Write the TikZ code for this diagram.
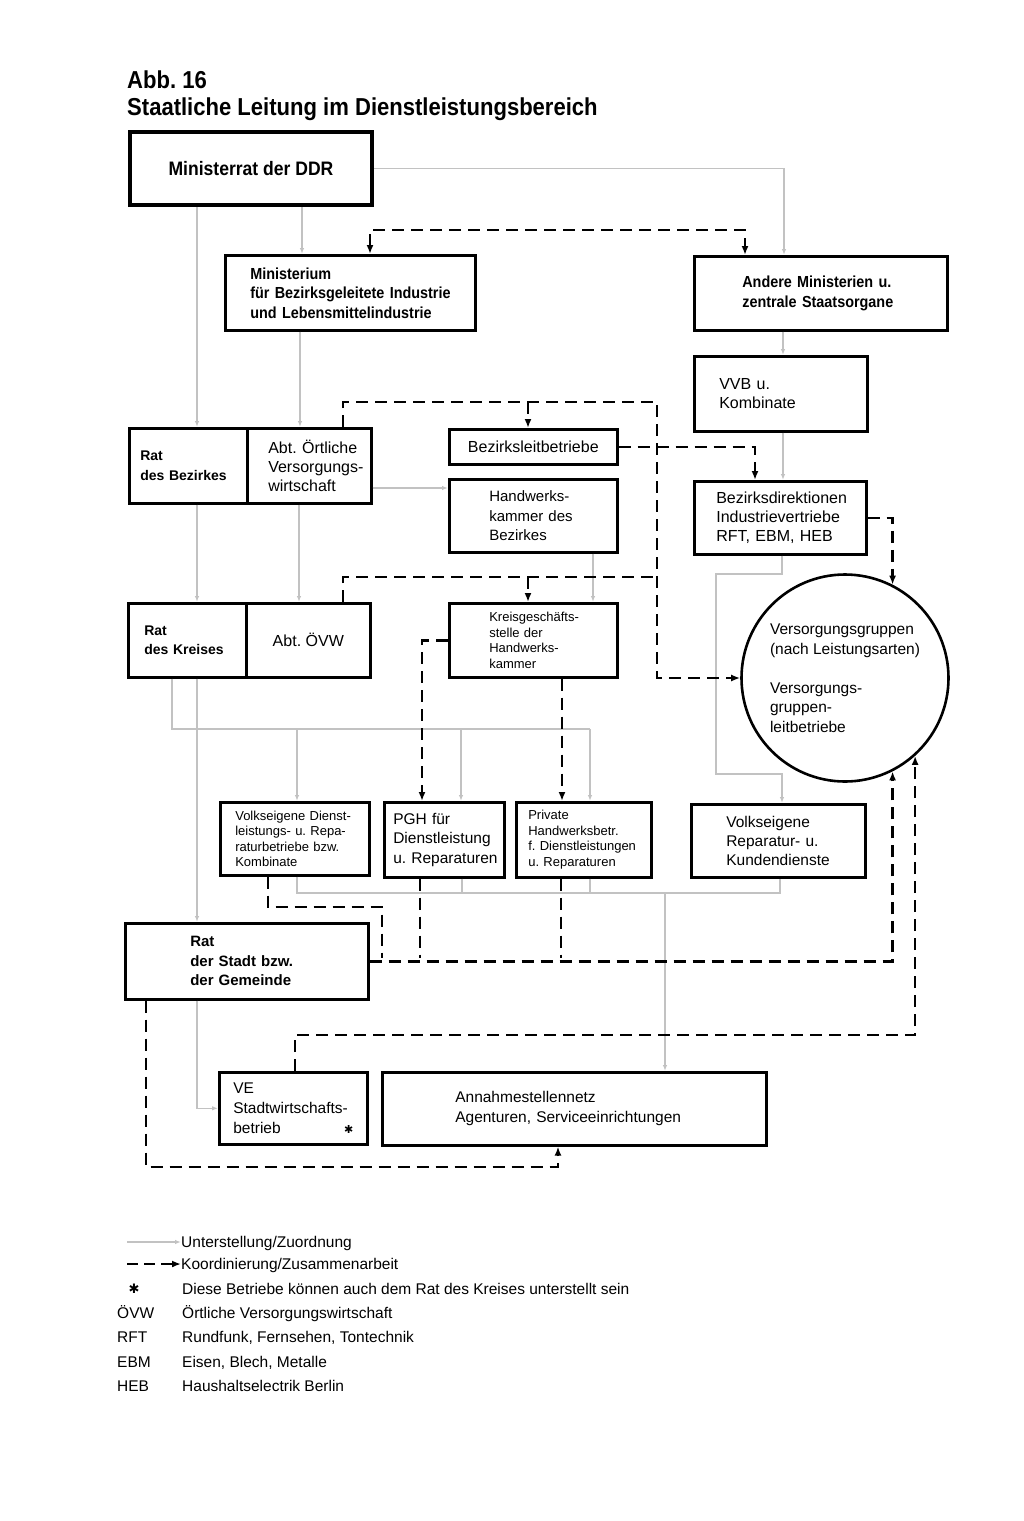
\documentclass[tikz,border=0pt]{standalone}
\usepackage{fontspec}
\setmainfont{Liberation Sans}
\newfontfamily\condf[FakeStretch=0.9]{Liberation Sans}
\newfontfamily\symf{DejaVu Sans}
\usetikzlibrary{arrows.meta}
\hyphenpenalty=10000
\exhyphenpenalty=10000
\frenchspacing
\newcommand{\nohyph}{\hyphenpenalty=10000\exhyphenpenalty=10000\frenchspacing\relax}
\begin{document}
\begin{tikzpicture}[x=1pt,y=-1pt,
  box/.style={draw, line width=2.6pt, anchor=north west, inner ysep=0pt, align=left,
    execute at begin node=\nohyph},
  uz/.style={draw=black!24, line width=1.2pt, -{Latex[open,length=6pt,width=4.5pt]}},
  uzl/.style={draw=black!24, line width=1.2pt},
  kz/.style={line width=2.5pt, dash pattern=on 12pt off 7pt, -{Latex[length=9pt,width=7pt]}},
  kzl/.style={line width=2.5pt, dash pattern=on 12pt off 7pt},
  leg/.style={anchor=base west, inner sep=0pt, font={\fontsize{15.5}{18}\selectfont}},
  ttl/.style={anchor=base west, inner sep=0pt, font={\condf\bfseries\fontsize{24.5}{28}\selectfont}}
]
\fill[white] (0,0) rectangle (1024,1521);
\useasboundingbox (0,0) rectangle (1024,1521);

% title
\node[ttl] (abb) at (127,88) {Abb. 16};
\node[ttl] (title) at (127,115) {Staatliche Leitung im Dienstleistungsbereich};

% boxes
\node[box, line width=4pt, minimum width=242pt, minimum height=73pt, align=center,
  font={\condf\bfseries\fontsize{19.5}{23}\selectfont}] (mr) at (128,130) {Ministerrat der DDR};
\node[box, minimum width=250pt, minimum height=75pt, text width=200pt, inner xsep=25pt,
  font={\condf\bfseries\fontsize{16}{19.5}\selectfont}] (mi) at (224,254)
  {\mbox{Ministerium}\\\mbox{für Bezirksgeleitete Industrie}\\\mbox{und Lebensmittelindustrie}};
\node[box, minimum width=253pt, minimum height=74pt, text width=157pt, inner xsep=48pt,
  font={\condf\bfseries\fontsize{16}{19.5}\selectfont}] (am) at (693,255)
  {\mbox{Andere Ministerien u.}\\\mbox{zentrale Staatsorgane}};
\node[box, minimum width=173pt, minimum height=75pt, text width=123pt, inner xsep=25pt,
  font={\fontsize{16}{19.5}\selectfont}] (vvb) at (693,355) {\mbox{VVB u.}\\\mbox{Kombinate}};

\node[box, minimum width=118pt, minimum height=75pt, text width=96pt, inner xsep=11pt,
  font={\bfseries\fontsize{14}{20}\selectfont}] (rb) at (128,427) {\mbox{Rat}\\\mbox{des Bezirkes}};
\node[box, minimum width=124pt, minimum height=75pt, text width=82pt, inner xsep=21pt,
  font={\fontsize{16}{19}\selectfont}] (abt) at (246,427)
  {\mbox{Abt. Örtliche}\\\mbox{Versorgungs-}\\\mbox{wirtschaft}};
\node[box, minimum width=168pt, minimum height=35pt, align=center,
  font={\fontsize{16}{19}\selectfont}] (bl) at (448,428) {Bezirksleitbetriebe};
\node[box, minimum width=168pt, minimum height=73pt, text width=88pt, inner xsep=40pt,
  font={\fontsize{15}{19.5}\selectfont}] (hk) at (448,478)
  {\mbox{Handwerks-}\\\mbox{kammer des}\\\mbox{Bezirkes}};
\node[box, minimum width=172pt, minimum height=73pt, text width=128pt, inner xsep=22pt,
  font={\fontsize{16}{19}\selectfont}] (bd) at (693,480)
  {\mbox{Bezirksdirektionen}\\\mbox{Industrievertriebe}\\\mbox{RFT, EBM, HEB}};

\node[box, minimum width=118pt, minimum height=74pt, text width=86pt, inner xsep=16pt,
  font={\bfseries\fontsize{14}{19}\selectfont}] (rk) at (127,602) {\mbox{Rat}\\\mbox{des Kreises}};
\node[box, minimum width=124pt, minimum height=74pt, align=center,
  font={\fontsize{16}{19}\selectfont}] (ovw) at (245,602) {Abt. ÖVW};
\node[box, minimum width=168pt, minimum height=74pt, text width=88pt, inner xsep=40pt,
  font={\fontsize{13}{15.7}\selectfont}] (kg) at (448,602)
  {\mbox{Kreisgeschäfts-}\\\mbox{stelle der}\\\mbox{Handwerks-}\\\mbox{kammer}};
\node[draw, circle, line width=2.6pt, minimum size=207pt, inner sep=0pt, align=left,
  font={\fontsize{15.5}{19.5}\selectfont}, execute at begin node=\nohyph] (ci) at (845,678)
  {\mbox{Versorgungsgruppen}\\\mbox{(nach Leistungsarten)}\\[19.5pt]\mbox{Versorgungs-}\\\mbox{gruppen-}\\\mbox{leitbetriebe}};

\node[box, minimum width=149pt, minimum height=73pt, text width=119pt, inner xsep=15pt,
  font={\fontsize{13}{15.5}\selectfont}] (vd) at (219,801)
  {\mbox{Volkseigene Dienst-}\\\mbox{leistungs- u. Repa-}\\\mbox{raturbetriebe bzw.}\\\mbox{Kombinate}};
\node[box, minimum width=120pt, minimum height=75pt, text width=102pt, inner xsep=9pt,
  font={\fontsize{15.5}{19.5}\selectfont}] (pgh) at (383,801)
  {\mbox{PGH für}\\\mbox{Dienstleistung}\\\mbox{u. Reparaturen}};
\node[box, minimum width=135pt, minimum height=75pt, text width=111pt, inner xsep=12pt,
  font={\fontsize{13}{15.5}\selectfont}] (ph) at (515,801)
  {\mbox{Private}\\\mbox{Handwerksbetr.}\\\mbox{f. Dienstleistungen}\\\mbox{u. Reparaturen}};
\node[box, minimum width=174pt, minimum height=73pt, text width=104pt, inner xsep=35pt,
  font={\fontsize{15.5}{19}\selectfont}] (vr) at (690,803)
  {\mbox{Volkseigene}\\\mbox{Reparatur- u.}\\\mbox{Kundendienste}};

\node[box, minimum width=243pt, minimum height=76pt, text width=113pt, inner xsep=65pt,
  font={\bfseries\fontsize{15}{19.5}\selectfont}] (rs) at (124,922)
  {\mbox{Rat}\\\mbox{der Stadt bzw.}\\\mbox{der Gemeinde}};
\node[box, minimum width=148pt, minimum height=72pt, text width=120pt, inner xsep=14pt,
  font={\fontsize{15.5}{20}\selectfont}] (ve) at (218,1071)
  {\mbox{VE}\\\mbox{Stadtwirtschafts-}\\\mbox{betrieb}\hspace{\stretch{1}}{\symf\fontsize{11}{11}\selectfont ✱}\hspace*{3pt}};
\node[box, minimum width=384pt, minimum height=73pt, text width=238pt, inner xsep=73pt,
  font={\fontsize{15.5}{20}\selectfont}] (an) at (381,1071)
  {\mbox{Annahmestellennetz}\\\mbox{Agenturen, Serviceeinrichtungen}};

% Unterstellung / Zuordnung (grey)
\draw[uz] (mr.east) -| (784,0 |- am.north);
\draw[uz] (197,0 |- mr.south) -- (197,0 |- rb.north);
\draw[uz] (302,0 |- mr.south) -- (302,0 |- mi.north);
\draw[uz] (300,0 |- mi.south) -- (300,0 |- abt.north);
\draw[uz] (197,0 |- rb.south) -- (197,0 |- rk.north);
\draw[uz] (299,0 |- abt.south) -- (299,0 |- ovw.north);
\draw[uz] (abt.east |- 0,488) -- (hk.west |- 0,488);
\draw[uz] (783,0 |- am.south) -- (783,0 |- vvb.north);
\draw[uz] (783,0 |- vvb.south) -- (783,0 |- bd.north);
\draw[uz] (782,0 |- bd.south) -- (782,574) -- (716,574) -- (716,774) -- (782,774) -- (782,0 |- vr.north);
\draw[uz] (593,0 |- hk.south) -- (593,0 |- kg.north);
\draw[uzl] (172,0 |- rk.south) |- (590,729);
\draw[uz] (590,729) -- (590,0 |- ph.north);
\draw[uz] (297,729) -- (297,0 |- vd.north);
\draw[uz] (461,729) -- (461,0 |- pgh.north);
\draw[uz] (197,0 |- rk.south) -- (197,0 |- rs.north);
\draw[uzl] (297,0 |- vd.south) |- (780,893) -- (780,0 |- vr.south);
\draw[uzl] (462,0 |- pgh.south) -- (462,893);
\draw[uzl] (590,0 |- ph.south) -- (590,893);
\draw[uz] (665,893) -- (665,0 |- an.north);
\draw[uz] (197,0 |- rs.south) |- (ve.west);

% Koordinierung / Zusammenarbeit (dashed)
\draw[kz, {Latex[length=9pt,width=7pt]}-{Latex[length=9pt,width=7pt]}]
  (370,0 |- mi.north) |- (745,230) -- (745,0 |- am.north);
\draw[kz] (343,0 |- abt.north) |- (657,402) |- (ci.west);
\draw[kz] (528,402) -- (528,0 |- bl.north);
\draw[kzl] (343,0 |- ovw.north) |- (657,577);
\draw[kz] (528,577) -- (528,0 |- kg.north);
\draw[kz] (bl.east) -| (755,0 |- bd.north);
\draw[kz] (bd.east) -| (ci.63);
\draw[kz] (kg.west) -| (422,0 |- pgh.north);
\draw[kz] (562,0 |- kg.south) -- (562,0 |- ph.north);
\draw[kzl] (268,0 |- vd.south) |- (382,907) -- (382,958);
\draw[kzl] (420,0 |- pgh.south) -- (420,958);
\draw[kzl] (561,0 |- ph.south) -- (561,958);
\draw[kz] (rs.east) -| (ci.-63);
\draw[kz] (295,0 |- ve.north) -- (295,1035) -| (ci.-48);
\draw[kz] (146,0 |- rs.south) |- (558,1167) -- (558,0 |- an.south);

% legend
\node[leg] (lg1) at (181,1247) {Unterstellung/Zuordnung};
\coordinate (lg1s) at (127,1242);
\draw[uz] (lg1s) -- (lg1.west |- lg1s);
\node[leg] (lg2) at (181,1269) {Koordinierung/Zusammenarbeit};
\coordinate (lg2s) at (127,1264);
\draw[kz, dash pattern=on 11pt off 6pt] (lg2s) -- (lg2.west |- lg2s);
\node[inner sep=0pt, font={\symf\fontsize{13}{13}\selectfont}] (ast) at (134,1289) {✱};
\node[leg] (lg3) at (182,1294) {Diese Betriebe können auch dem Rat des Kreises unterstellt sein};
\node[leg] (ab1) at (117,1318) {ÖVW};
\node[leg] (ex1) at (182,1318) {Örtliche Versorgungswirtschaft};
\node[leg] (ab2) at (117,1342) {RFT};
\node[leg] (ex2) at (182,1342) {Rundfunk, Fernsehen, Tontechnik};
\node[leg] (ab3) at (117,1367) {EBM};
\node[leg] (ex3) at (182,1367) {Eisen, Blech, Metalle};
\node[leg] (ab4) at (117,1391) {HEB};
\node[leg] (ex4) at (182,1391) {Haushaltselectrik Berlin};
\end{tikzpicture}
\end{document}
